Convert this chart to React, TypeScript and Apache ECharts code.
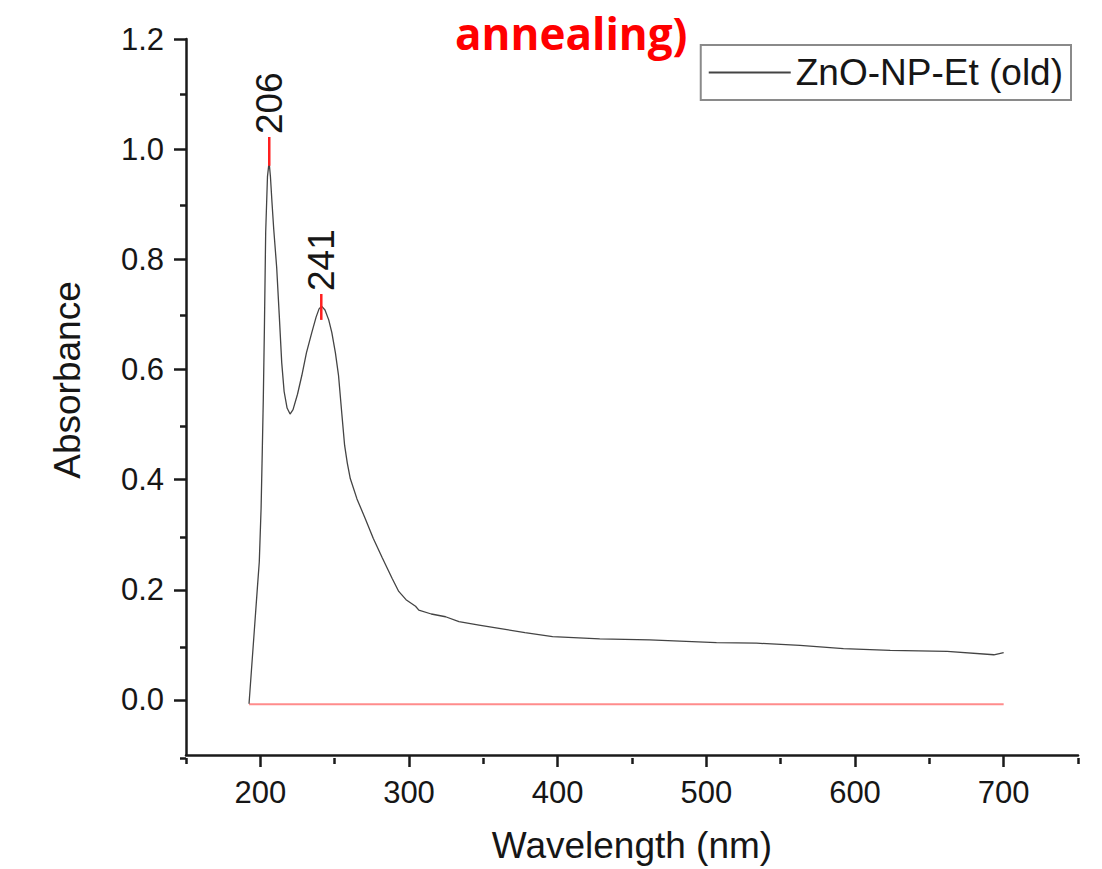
import React, { useEffect, useRef } from 'react';
import * as echarts from 'echarts';

const seriesName = 'ZnO-NP-Et (old)';
const titleText = 'annealing)';
const xTitle = 'Wavelength (nm)';
const yTitle = 'Absorbance';

const wavelength = [
  192.4, 194, 196, 198, 199.3, 200.5, 201.3, 202, 202.7, 203.6, 204.8, 205.9, 206.8, 207.8, 209, 211,
  212.7, 214.4, 216, 218, 220, 222, 225, 227.9, 231, 234.6, 237.5, 239.5, 241.2, 243.5, 246, 248.1,
  250.5, 252.6, 254.8, 256.7, 258.5, 260.5, 265, 270.6, 276, 282, 288.6, 293.1, 298, 304.4, 306.6,
  315, 324.6, 333.6, 347.1, 360.6, 378, 396.6, 428.3, 461.8, 506.8, 533.8, 563, 592.2, 623.7, 662,
  693.4, 700,
];
const absorbance = [
  -0.007, 0.053, 0.128, 0.203, 0.251, 0.347, 0.45, 0.547, 0.668, 0.849, 0.95, 0.977, 0.95, 0.905, 0.855, 0.785,
  0.7, 0.612, 0.56, 0.53, 0.519, 0.527, 0.555, 0.589, 0.63, 0.667, 0.695, 0.71, 0.715, 0.708, 0.69, 0.667,
  0.63, 0.589, 0.52, 0.462, 0.43, 0.402, 0.365, 0.329, 0.293, 0.258, 0.221, 0.197, 0.182, 0.17, 0.163,
  0.156, 0.151, 0.142, 0.136, 0.13, 0.122, 0.115, 0.111, 0.109, 0.104, 0.103, 0.099, 0.093, 0.09, 0.088,
  0.082, 0.086,
];

const baselineX = [192.4, 700];
const baselineY = [-0.008, -0.008];

const peakWavelength = [206, 241];
const peakLow = [0.97, 0.69];
const peakHigh = [1.022, 0.737];

const xMajorTicks = [200, 300, 400, 500, 600, 700];
const xMinorTicks = [150, 250, 350, 450, 550, 650, 750];
const yMajorTicks = [0, 0.2, 0.4, 0.6, 0.8, 1.0, 1.2];
const yMinorTicks = [-0.1, 0.1, 0.3, 0.5, 0.7, 0.9, 1.1];

export default function App() {
  const ref = useRef<HTMLDivElement>(null);
  useEffect(() => {
    const chart = echarts.init(ref.current!, null, { renderer: 'svg' });
    const font = '"Liberation Sans", Arial, Helvetica, sans-serif';
    const axisColor = '#1a1a1a';
    const textColor = '#161616';
    const gridPos = { left: 186, right: 24, top: 39, bottom: 111, containLabel: false };

    const curve = wavelength.map((w, i) => [w, absorbance[i]]);
    const base = baselineX.map((w, i) => [w, baselineY[i]]);

    const markerSeries = peakWavelength.map((w, i) => ({
      type: 'line',
      name: 'peak-' + w,
      xAxisIndex: 0,
      yAxisIndex: 0,
      data: [
        [w, peakLow[i]],
        [w, peakHigh[i]],
      ],
      symbol: 'none',
      silent: true,
      z: 4,
      lineStyle: { color: '#ff1f1f', width: 2.5 },
    }));

    chart.setOption({
      animation: false,
      backgroundColor: '#fff',
      grid: [gridPos, gridPos],
      legend: {
        data: [seriesName],
        right: 31,
        top: 45,
        icon: 'rect',
        itemWidth: 82,
        itemHeight: 2,
        backgroundColor: '#fff',
        borderColor: '#8a8a8a',
        borderWidth: 2,
        borderRadius: 0,
        padding: [9, 8, 9, 8],
        selectedMode: false,
        textStyle: { fontSize: 37, color: textColor, fontFamily: font },
      },
      xAxis: [
        {
          type: 'value',
          gridIndex: 0,
          min: 150,
          max: 750,
          interval: 50,
          axisLine: { show: true, onZero: false, lineStyle: { color: axisColor, width: 2.5 } },
          axisTick: { show: true, customValues: xMajorTicks, length: 12, lineStyle: { color: axisColor, width: 2.5 } },
          axisLabel: { customValues: xMajorTicks, margin: 22, fontSize: 31, color: textColor, fontFamily: font },
          splitLine: { show: false },
          name: xTitle,
          nameLocation: 'middle',
          nameGap: 72,
          nameTextStyle: { fontSize: 37, color: textColor, fontFamily: font },
        },
        {
          type: 'value',
          gridIndex: 1,
          min: 150,
          max: 750,
          interval: 50,
          axisLine: { show: false, onZero: false },
          axisTick: { show: true, customValues: xMinorTicks, length: 6, lineStyle: { color: axisColor, width: 2.5 } },
          axisLabel: { show: false },
          splitLine: { show: false },
        },
      ],
      yAxis: [
        {
          type: 'value',
          gridIndex: 0,
          min: -0.1,
          max: 1.2,
          interval: 0.1,
          axisLine: { show: true, onZero: false, lineStyle: { color: axisColor, width: 2.5 } },
          axisTick: { show: true, customValues: yMajorTicks, length: 12, lineStyle: { color: axisColor, width: 2.5 } },
          axisLabel: {
            customValues: yMajorTicks,
            margin: 22,
            fontSize: 31,
            color: textColor,
            fontFamily: font,
            formatter: (v: number) => v.toFixed(1),
          },
          splitLine: { show: false },
        },
        {
          type: 'value',
          gridIndex: 1,
          min: -0.1,
          max: 1.2,
          interval: 0.1,
          axisLine: { show: false, onZero: false },
          axisTick: { show: true, customValues: yMinorTicks, length: 6, lineStyle: { color: axisColor, width: 2.5 } },
          axisLabel: { show: false },
          splitLine: { show: false },
        },
      ],
      graphic: [
        {
          type: 'text',
          x: 67,
          y: 380,
          rotation: Math.PI / 2,
          style: {
            text: yTitle,
            fontSize: 37,
            fontFamily: font,
            fill: textColor,
            align: 'center',
            verticalAlign: 'middle',
          },
        },
        {
          type: 'text',
          x: 455,
          y: 33,
          style: {
            text: titleText,
            fontSize: 44,
            fontWeight: 'bold',
            fontFamily: '"Open Sans", "Liberation Sans", sans-serif',
            fill: '#ff0000',
            align: 'left',
            verticalAlign: 'middle',
          },
        },
      ],
      series: [
        {
          type: 'line',
          name: 'baseline',
          data: base,
          symbol: 'none',
          silent: true,
          z: 2,
          lineStyle: { color: '#ff8c8c', width: 2 },
        },
        {
          type: 'line',
          name: seriesName,
          data: curve,
          symbol: 'none',
          smooth: false,
          z: 3,
          color: '#444',
          lineStyle: { color: '#444', width: 1.3 },
        },
        ...markerSeries,
        {
          type: 'scatter',
          name: 'peak-labels',
          data: peakWavelength.map((w, i) => [w, peakHigh[i]]),
          symbolSize: 0,
          silent: true,
          z: 5,
          itemStyle: { opacity: 1 },
          label: {
            show: true,
            position: 'top',
            distance: 3,
            rotate: 90,
            align: 'left',
            verticalAlign: 'middle',
            fontSize: 37,
            color: textColor,
            opacity: 1,
            fontFamily: font,
            formatter: (p: any) => String(p.value[0]),
          },
        },
      ],
    });
    return () => chart.dispose();
  }, []);
  return <div ref={ref} style={{ position: 'absolute', left: 0, top: 0, width: 1102, height: 869 }} />;
}
